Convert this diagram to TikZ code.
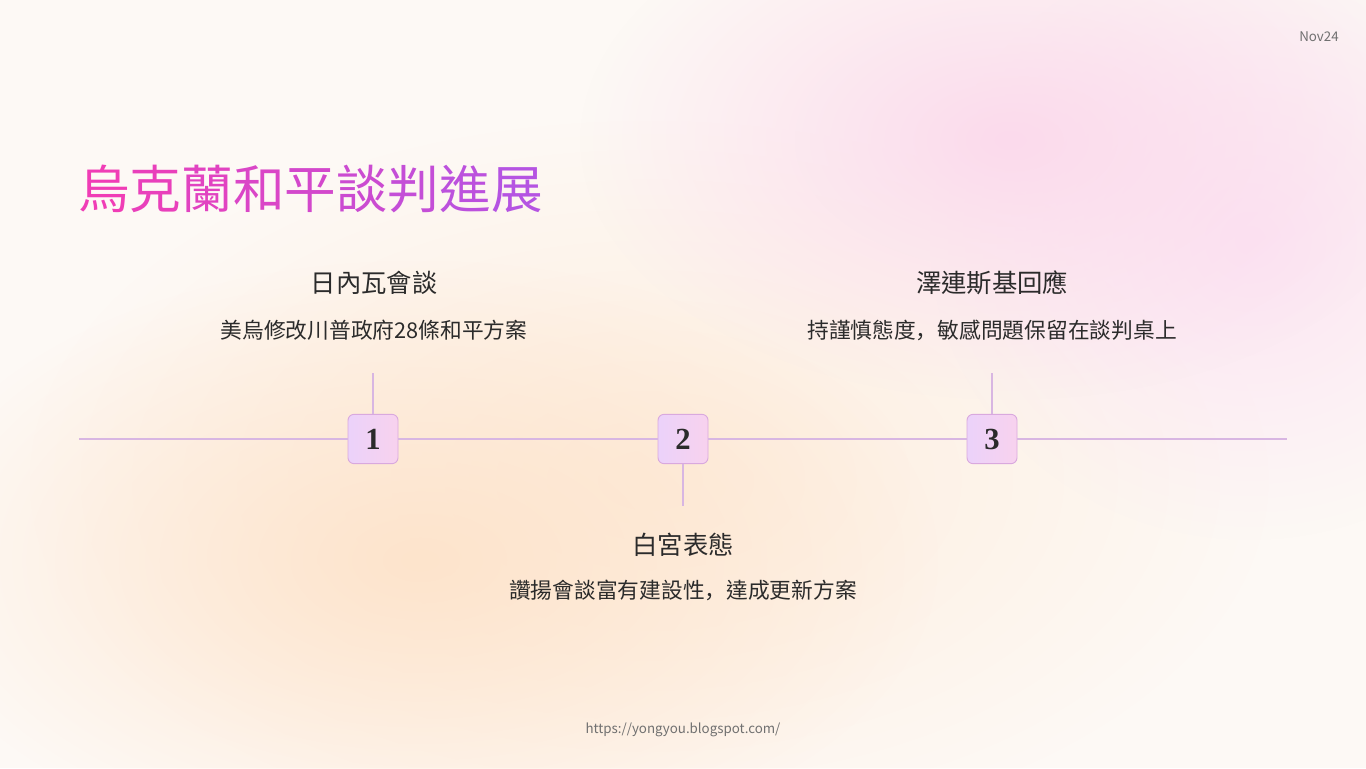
\documentclass[tikz,border=0pt]{standalone}
\usepackage{fontspec}
\setmainfont{Noto Sans CJK TC}
\newfontfamily\jpfont{Noto Sans CJK JP}
\newfontfamily\numfont{Liberation Serif}
\usetikzlibrary{fadings}
\tikzfading[name=blobfade, inner color=transparent!0, outer color=transparent!100]
\definecolor{bg}{HTML}{FDF9F5}
\definecolor{blobpink}{HTML}{FBDAEC}
\definecolor{blobpink2}{HTML}{FCE4F3}
\definecolor{blobpeach}{HTML}{FDE4CC}
\definecolor{blobpeach2}{HTML}{FDEDDD}
\definecolor{tA}{HTML}{F03DB6}
\definecolor{tB}{HTML}{B554E2}
\definecolor{lineC}{HTML}{D8B6E2}
\definecolor{boxL}{HTML}{EBD2FA}
\definecolor{boxR}{HTML}{F8D2EE}
\definecolor{boxB}{HTML}{D9A9DE}
\definecolor{txt}{HTML}{2B2B2B}
\definecolor{grey}{HTML}{707070}
\newcommand{\qcomma}{{\jpfont ，}}
\tikzset{
  numbox/.style={draw=boxB, line width=0.7pt, rounded corners=4.5pt, minimum width=37.5pt, minimum height=37pt, inner sep=0pt, left color=boxL, right color=boxR, font=\numfont\bfseries\fontsize{23}{23}\selectfont, text=txt},
  tl/.style={draw=lineC, line width=1.5pt},
  head/.style={anchor=base, font=\fontsize{19}{21}\selectfont, text=txt, inner sep=0pt},
  desc/.style={anchor=base, font=\fontsize{16.3}{18}\selectfont, text=txt, inner sep=0pt},
  small/.style={font=\fontsize{10}{12}\selectfont, text=grey, inner sep=0pt}
}
\begin{document}
\begin{tikzpicture}[x=0.75pt,y=-0.75pt]
\useasboundingbox (0,0) rectangle (1366,768);
\fill[bg] (0,0) rectangle (1366,768);
% background blobs
\fill[blobpeach2, path fading=blobfade] (650,480) ellipse (620 and 360);
\fill[blobpeach, path fading=blobfade] (420,560) ellipse (520 and 300);
\fill[blobpink2, path fading=blobfade] (1250,240) ellipse (320 and 300);
\fill[blobpink, path fading=blobfade] (1010,140) ellipse (430 and 260);
% title
\node[anchor=base west, inner sep=0pt, font=\fontsize{38.7}{41}\selectfont] (title) at (78,208)
 {\textcolor{tA!100!tB}{烏}\textcolor{tA!88!tB}{克}\textcolor{tA!75!tB}{蘭}\textcolor{tA!62!tB}{和}\textcolor{tA!50!tB}{平}\textcolor{tA!38!tB}{談}\textcolor{tA!25!tB}{判}\textcolor{tA!12!tB}{進}\textcolor{tA!0!tB}{展}};
% timeline
\coordinate (L) at (79,439);
\coordinate (R) at (1287,439);
\node[numbox] (b1) at (373,439) {1};
\node[numbox] (b2) at (683,439) {2};
\node[numbox] (b3) at (992,439) {3};
\coordinate (t1) at (373,373);
\coordinate (t2) at (683,506);
\coordinate (t3) at (992,373);
\draw[tl] (L) -- (b1.west);
\draw[tl] (b1.east) -- (b2.west);
\draw[tl] (b2.east) -- (b3.west);
\draw[tl] (b3.east) -- (R);
\draw[tl] (b1.north) -- (t1);
\draw[tl] (b2.south) -- (t2);
\draw[tl] (b3.north) -- (t3);
% labels
\node[head] (h1) at (374,292.7) {日內瓦會談};
\node[desc] (d1) at (374,338.3) {美烏修改川普政府28條和平方案};
\node[head] (h2) at (683,554.7) {白宮表態};
\node[desc] (d2) at (683,598.3) {讚揚會談富有建設性\qcomma 達成更新方案};
\node[head] (h3) at (992,292.7) {澤連斯基回應};
\node[desc] (d3) at (992,338.3) {持謹慎態度\qcomma 敏感問題保留在談判桌上};
% corner texts
\node[small] (date) at (1319,37) {Nov24};
\node[small] (url) at (683,730) {https://yongyou.blogspot.com/};
\end{tikzpicture}
\end{document}
